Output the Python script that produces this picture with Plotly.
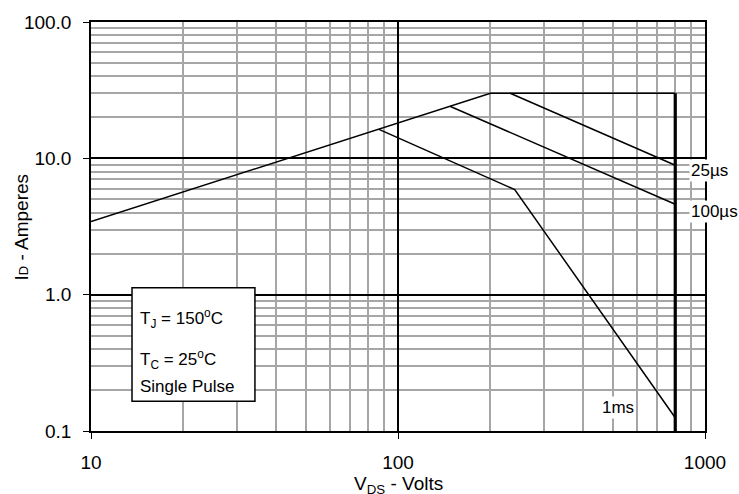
import plotly.graph_objects as go
import math

# ---- data ----
soa_v = [10, 200, 800]          # RDS(on) limit + current limit
soa_i = [3.44, 30, 30]
vmax_v = [800, 800]             # BVDSS limit
vmax_i = [30, 0.1]
us25_v = [232, 800]
us25_i = [30, 8.9]
us100_v = [147.6, 800]
us100_i = [24.1, 4.6]
ms1_v = [86.7, 240, 800]
ms1_i = [16.3, 5.9, 0.125]

x_ticks = [10, 100, 1000]
x_labels = ["10", "100", "1000"]
y_ticks = [0.1, 1, 10, 100]
y_labels = ["0.1", "1.0", "10.0", "100.0"]

curve_labels = ["25µs", "100µs", "1ms"]
label_pos_v = [1037, 1075, 521]
label_pos_i = [8.2, 4.08, 0.148]

FONT = "Liberation Sans, Arial, sans-serif"
FS = 18

X_RANGE = [1, 3]
Y_RANGE = [-1, 2]

def to_paper_x(v):
    return (math.log10(v) - X_RANGE[0]) / (X_RANGE[1] - X_RANGE[0])

def to_paper_y(i):
    return (math.log10(i) - Y_RANGE[0]) / (Y_RANGE[1] - Y_RANGE[0])

fig = go.Figure()
line = dict(color="black", width=1.5)
for xs, ys in [(soa_v, soa_i), (us25_v, us25_i), (us100_v, us100_i), (ms1_v, ms1_i)]:
    fig.add_trace(go.Scatter(x=xs, y=ys, mode="lines", line=line,
                             showlegend=False, hoverinfo="skip"))
fig.add_trace(go.Scatter(x=vmax_v, y=vmax_i, mode="lines",
                         line=dict(color="black", width=3.2),
                         showlegend=False, hoverinfo="skip", cliponaxis=False))

for txt, v, i in zip(curve_labels, label_pos_v, label_pos_i):
    fig.add_annotation(x=to_paper_x(v), y=to_paper_y(i), xref="paper", yref="paper",
                       xanchor="center", yanchor="middle",
                       text=txt, showarrow=False, bgcolor="white",
                       font=dict(family=FONT, size=FS - 1, color="black"),
                       borderpad=1)

# condition box
fig.add_shape(type="rect", xref="paper", yref="paper",
              x0=0.0668, x1=0.267, y0=0.073, y1=0.350,
              fillcolor="white", line=dict(color="black", width=1.5),
              layer="above")
box_lines = ["T<sub>J</sub> = 150<sup>o</sup>C", "T<sub>C</sub> = 25<sup>o</sup>C", "Single Pulse"]
box_y = [0.276, 0.176, 0.108]
for txt, yy in zip(box_lines, box_y):
    fig.add_annotation(x=0.0765, y=yy, xref="paper", yref="paper",
                       text=txt, showarrow=False, xanchor="left", yanchor="middle",
                       font=dict(family=FONT, size=FS - 1, color="black"))

# axis titles
fig.add_annotation(x=-0.1124, y=0.50, xref="paper", yref="paper",
                   text="I<span style='font-size:13px'>D</span> - Amperes", textangle=-90,
                   showarrow=False, xanchor="center", yanchor="middle",
                   font=dict(family=FONT, size=FS + 1, color="black"))
fig.add_annotation(x=0.5, y=-0.133, xref="paper", yref="paper",
                   text="V<sub>DS</sub> - Volts",
                   showarrow=False, xanchor="center", yanchor="middle",
                   font=dict(family=FONT, size=FS + 1, color="black"))

axis_common = dict(
    type="log", showline=True, mirror=True, linecolor="black", linewidth=1.5,
    ticks="outside", ticklen=6, tickcolor="black", tickwidth=1.2,
    showgrid=True, gridcolor="black", gridwidth=1.5, zeroline=False,
    automargin=False,
    tickfont=dict(family=FONT, size=FS + 1, color="black"),
    minor=dict(dtick="D1", showgrid=True, gridcolor="#a6a6a6", gridwidth=1.5, ticks=""),
)

fig.update_layout(
    width=739, height=494,
    margin=dict(l=91, r=34, t=22, b=63),
    paper_bgcolor="white", plot_bgcolor="white",
    xaxis=dict(axis_common, range=X_RANGE, tickmode="array",
               tickvals=x_ticks, ticktext=x_labels, ticklabelstandoff=7),
    yaxis=dict(axis_common, range=Y_RANGE, tickmode="array",
               tickvals=y_ticks, ticktext=y_labels, ticklabelstandoff=8),
)

# remove the default page-body margin so the 739x494 figure fills the window exactly
fig.write_html("out.html", config={"displayModeBar": False},
               post_script="document.body.style.margin='0';")
